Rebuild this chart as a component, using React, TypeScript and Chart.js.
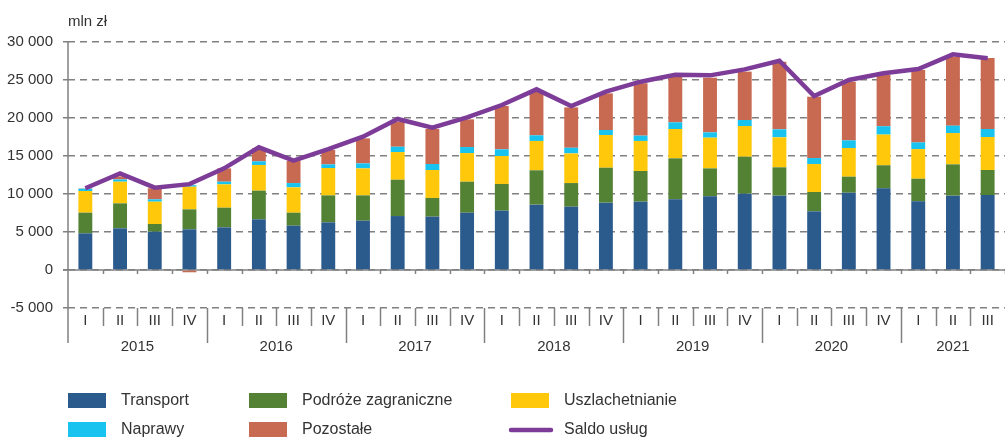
import React, { useEffect, useRef } from "react";
import { Chart, registerables } from "chart.js";

Chart.register(...registerables);

const quarters = [
  "I", "II", "III", "IV", "I", "II", "III", "IV", "I", "II", "III", "IV",
  "I", "II", "III", "IV", "I", "II", "III", "IV", "I", "II", "III", "IV",
  "I", "II", "III",
];
const years = ["2015", "2016", "2017", "2018", "2019", "2020", "2021"];

const transport = [4825, 5480, 5040, 5350, 5610, 6670, 5830, 6270, 6490, 7100, 7020, 7540, 7810, 8600, 8330, 8860, 8990, 9300, 9690, 10040, 9780, 7720, 10170, 10750, 9030, 9780, 9870];
const podroze = [2720, 3290, 1010, 2630, 2590, 3770, 1710, 3550, 3330, 4780, 2460, 4080, 3510, 4520, 3110, 4600, 4040, 5390, 3680, 4870, 3730, 2540, 2110, 3030, 2980, 4120, 3290];
const uszlachetnianie = [2850, 2850, 2940, 2980, 3070, 3380, 3330, 3600, 3550, 3640, 3680, 3770, 3680, 3860, 3900, 4300, 3950, 3860, 4040, 4040, 3950, 3680, 3770, 4040, 3900, 4120, 4340];
const naprawy = [300, 300, 310, 200, 350, 480, 570, 480, 660, 700, 790, 790, 880, 745, 745, 660, 700, 880, 700, 790, 1050, 790, 1010, 1100, 880, 970, 1050];
const pozostale = [50, 400, 1450, -300, 1750, 1710, 2900, 1890, 3290, 3290, 4600, 3640, 5700, 5750, 5310, 4820, 6890, 6010, 7190, 6360, 8900, 8070, 7720, 6760, 9520, 9080, 9340];
const saldo = [10750, 12720, 10830, 11300, 13380, 16140, 14390, 15900, 17540, 19870, 18730, 20090, 21710, 23770, 21580, 23470, 24780, 25700, 25610, 26400, 27540, 22900, 25000, 25880, 26450, 28380, 27860];

const FONT = "'Liberation Sans', Arial, sans-serif";
const TEXT = "#333333";
const GRID = "#808080";

const fmt = (v: number) => String(v).replace(/\B(?=(\d{3})+(?!\d))/g, " ");

const decor = {
  id: "decor",
  beforeDatasetsDraw(chart: any) {
    const { ctx, chartArea, scales } = chart;
    const y = scales.y;
    const y0 = y.getPixelForValue(0);
    ctx.save();
    ctx.strokeStyle = GRID;
    ctx.lineWidth = 1.5;
    ctx.beginPath();
    ctx.moveTo(chartArea.left - 5, y0);
    ctx.lineTo(chartArea.right, y0);
    ctx.stroke();
    ctx.restore();
  },
  afterDraw(chart: any) {
    const { ctx, chartArea, scales } = chart;
    const x = scales.x;
    const y = scales.y;
    const n = quarters.length;
    const w = (x.right - x.left) / n;
    const y0 = y.getPixelForValue(0);
    const bottom = chartArea.bottom;
    ctx.save();
    ctx.strokeStyle = GRID;
    ctx.lineWidth = 1.5;
    // y axis line
    ctx.beginPath();
    ctx.moveTo(x.left, chartArea.top);
    ctx.lineTo(x.left, bottom + 35);
    ctx.stroke();
    for (let i = 1; i <= n; i++) {
      const bx = Math.round(x.left + i * w) + 0.5;
      ctx.beginPath();
      ctx.moveTo(bx, y0);
      ctx.lineTo(bx, y0 + 4);
      ctx.stroke();
      if (i < n) {
        ctx.beginPath();
        ctx.moveTo(bx, bottom);
        ctx.lineTo(bx, bottom + (i % 4 === 0 ? 35 : 18));
        ctx.stroke();
      }
    }
    // year labels
    ctx.fillStyle = TEXT;
    ctx.font = `15px ${FONT}`;
    ctx.textAlign = "center";
    ctx.textBaseline = "middle";
    years.forEach((yr, j) => {
      const start = j * 4;
      const count = Math.min(4, n - start);
      const cx = x.left + (start + count / 2) * w;
      ctx.fillText(yr, cx, bottom + 39);
    });
    // unit label
    ctx.textAlign = "left";
    ctx.fillText("mln zł", 68, 22);

    // legend
    ctx.font = `16px ${FONT}`;
    const ds = chart.data.datasets;
    const cols = [68, 249, 511];
    const rows = [401, 430];
    const orderIdx = [1, 2, 3, 4, 5, 0];
    orderIdx.forEach((di, k) => {
      const d = ds[di];
      const cx = cols[k % 3];
      const cy = rows[Math.floor(k / 3)];
      if (d.type === "line") {
        ctx.strokeStyle = d.borderColor;
        ctx.lineWidth = 4.5;
        ctx.lineCap = "round";
        ctx.beginPath();
        ctx.moveTo(cx, cy);
        ctx.lineTo(cx + 40, cy);
        ctx.stroke();
      } else {
        ctx.fillStyle = d.backgroundColor;
        ctx.fillRect(cx, cy - 8, 38, 15);
      }
      ctx.fillStyle = TEXT;
      ctx.textAlign = "left";
      ctx.textBaseline = "middle";
      ctx.fillText(d.label, cx + 53, cy);
    });
    ctx.restore();
  },
};

export default function App() {
  const ref = useRef<HTMLCanvasElement>(null);
  useEffect(() => {
    if (!ref.current) return;
    const bar = (label: string, data: number[], color: string) => ({
      type: "bar" as const,
      label,
      data,
      backgroundColor: color,
      borderWidth: 0,
      stack: "s",
      order: 1,
      barPercentage: 0.4,
      categoryPercentage: 1.0,
    });
    const chart = new Chart(ref.current, {
      type: "bar",
      data: {
        labels: quarters,
        datasets: [
          {
            type: "line" as const,
            label: "Saldo usług",
            data: saldo,
            borderColor: "#7D3C98",
            backgroundColor: "#7D3C98",
            borderWidth: 4.5,
            pointRadius: 0,
            tension: 0,
            order: 0,
          } as any,
          bar("Transport", transport, "#2B5A8D"),
          bar("Podróże zagraniczne", podroze, "#548235"),
          bar("Uszlachetnianie", uszlachetnianie, "#FFC80B"),
          bar("Naprawy", naprawy, "#18C3F0"),
          bar("Pozostałe", pozostale, "#C86A52"),
        ],
      },
      options: {
        responsive: false,
        animation: false,
        events: [],
        layout: { padding: { top: 42, left: 0, right: 0, bottom: 0 } },
        plugins: { legend: { display: false }, tooltip: { enabled: false } },
        scales: {
          x: {
            type: "category",
            offset: true,
            stacked: true,
            grid: { display: false, drawTicks: false },
            border: { display: false },
            ticks: {
              padding: 4,
              color: TEXT,
              font: { family: FONT, size: 15 },
              maxRotation: 0,
              autoSkip: false,
            },
            afterFit: (s: any) => {
              s.height = 129;
            },
          },
          y: {
            stacked: true,
            min: -5000,
            max: 30000,
            ticks: {
              stepSize: 5000,
              padding: 10,
              color: TEXT,
              font: { family: FONT, size: 15 },
              callback: (v: any) => fmt(Number(v)),
            },
            grid: {
              color: GRID,
              lineWidth: 1.5,
              drawTicks: true,
              tickLength: 5,
              tickColor: GRID,
              tickWidth: 1.5,
            },
            border: { display: false, dash: [7, 5] },
            afterFit: (s: any) => {
              s.width = 68;
            },
          },
        },
      } as any,
      plugins: [decor],
    });
    return () => chart.destroy();
  }, []);
  return (
    <div style={{ position: "fixed", left: 0, top: 0, width: 1005, height: 437, background: "#fff" }}>
      <canvas ref={ref} width={1005} height={437} />
    </div>
  );
}
